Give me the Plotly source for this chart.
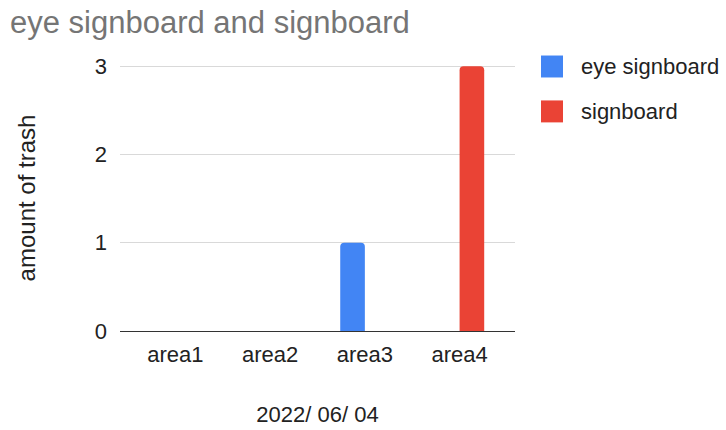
import plotly.graph_objects as go

# Data
areas = ["area1", "area2", "area3", "area4"]
eye_signboard = [0, 0, 1, 0]
signboard = [0, 0, 0, 3]
series_names = ["eye signboard", "signboard"]
series_colors = ["#4285F4", "#EA4335"]
y_ticks = [0, 1, 2, 3]

FONT = "Liberation Sans, Arial, sans-serif"

TOP, BOTTOM, LEFT, RIGHT = 65, 98.5, 120, 211
PLOT_H = 430 - TOP - BOTTOM
PLOT_W = 726 - LEFT - RIGHT

fig = go.Figure()
for name, vals, color in zip(series_names, [eye_signboard, signboard], series_colors):
    fig.add_trace(go.Bar(
        x=areas, y=vals, name=name,
        marker=dict(color=color, line=dict(width=0), cornerradius=4),
        showlegend=False,
    ))

# Legend drawn as colored squares with labels at the right of the plot
for i, (name, color) in enumerate(zip(series_names, series_colors)):
    yc = 66.5 + i * 45  # pixel center from top
    fig.add_shape(
        type="rect", xref="paper", yref="paper",
        x0=(541 - LEFT) / PLOT_W, x1=(563 - LEFT) / PLOT_W,
        y0=(430 - BOTTOM - (yc + 11)) / PLOT_H, y1=(430 - BOTTOM - (yc - 11)) / PLOT_H,
        fillcolor=color, line=dict(width=0),
    )
    fig.add_annotation(
        text=name, xref="paper", yref="paper",
        x=(579 - LEFT) / PLOT_W, y=(430 - BOTTOM - yc) / PLOT_H,
        xanchor="left", yanchor="middle", showarrow=False,
        font=dict(family=FONT, size=22, color="#222222"),
    )

fig.update_layout(
    width=726, height=430,
    margin=dict(l=LEFT, r=RIGHT, t=TOP, b=BOTTOM, pad=0),
    paper_bgcolor="white", plot_bgcolor="white",
    barmode="group", bargap=0.48, bargroupgap=0,
    title=dict(
        text="eye signboard and signboard",
        x=10 / 726, xref="container", xanchor="left",
        y=1 - 22 / 430, yref="container", yanchor="middle",
        font=dict(family=FONT, size=31, color="#757575"),
    ),
    font=dict(family=FONT, size=22, color="#222222"),
)

fig.update_xaxes(
    type="category", range=[-0.585, 3.585], automargin=False,
    showgrid=False, showline=False, zeroline=False,
    ticks="", ticklabelstandoff=8,
    tickfont=dict(family=FONT, size=22, color="#222222"),
    title=dict(text="2022/ 06/ 04", standoff=40,
               font=dict(family=FONT, size=22, color="#222222")),
)

fig.update_yaxes(
    range=[0, 3.015], tickvals=y_ticks, automargin=False,
    showgrid=True, gridcolor="#d9d9d9", gridwidth=1,
    zeroline=True, zerolinecolor="#333333", zerolinewidth=1.4,
    showline=False, ticks="", ticklabelstandoff=12,
    tickfont=dict(family=FONT, size=22, color="#222222"),
    title=dict(text="amount of trash", standoff=52,
               font=dict(family=FONT, size=24, color="#222222")),
)

fig.write_html("out.html")
